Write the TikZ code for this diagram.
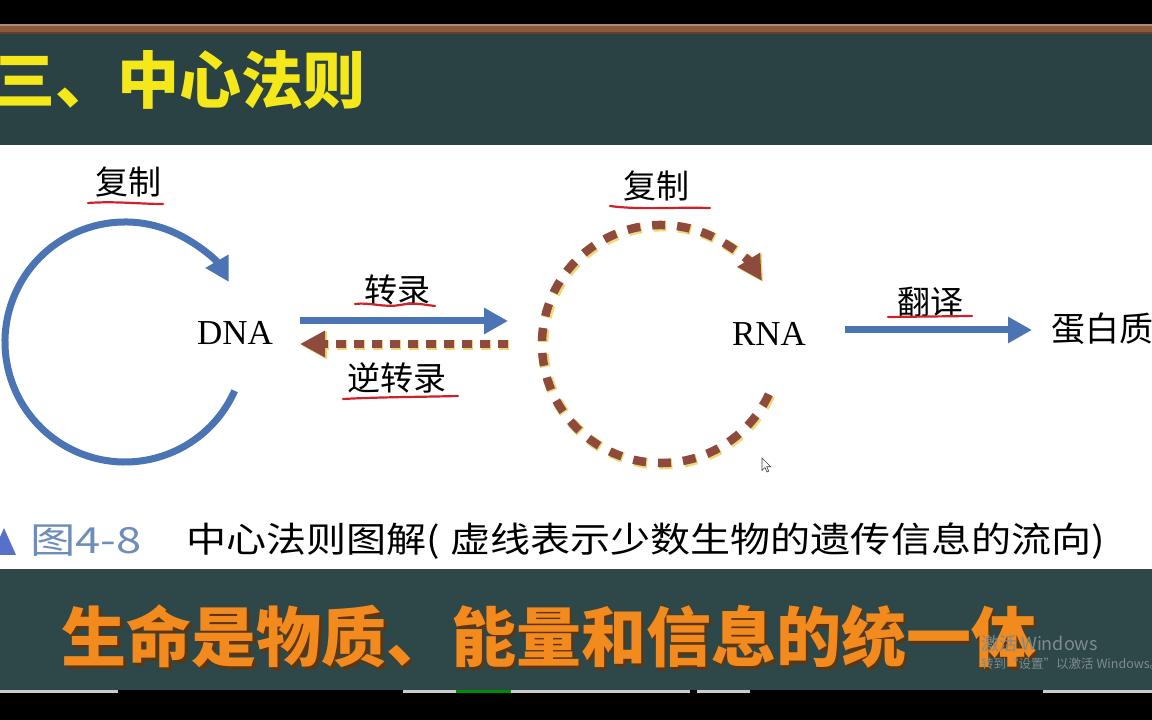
\documentclass[tikz,border=0pt]{standalone}
\usepackage{fontspec}
\setmainfont{Liberation Serif}
\newfontfamily\cjk{Noto Sans CJK SC}
\usetikzlibrary{arrows.meta}
\definecolor{board}{HTML}{2A4243}
\definecolor{boardb}{HTML}{2E4748}
\definecolor{wood}{HTML}{8A5A3A}
\definecolor{ttl}{HTML}{F4E71A}
\definecolor{flowblue}{HTML}{4A74B4}
\definecolor{rbrown}{HTML}{8E4A3C}
\definecolor{halo}{HTML}{F0D872}
\definecolor{uline}{HTML}{D0202A}
\definecolor{slogan}{HTML}{F28A1E}
\definecolor{sshadow}{HTML}{5E3612}
\definecolor{capblue}{HTML}{6E8EBA}
\definecolor{wm}{HTML}{7E8C8D}
\begin{document}
\begin{tikzpicture}[x=1pt,y=1pt,
  lbl/.style={font=\cjk\fontsize{33}{33}\selectfont, inner sep=0pt},
  molec/.style={font=\fontsize{35}{35}\selectfont, inner sep=0pt},
  bluearrow/.style={draw=flowblue, line width=7pt, -{Triangle[length=24pt,width=25pt]}},
  dashbrown/.style={draw=rbrown, line width=8.5pt, -{Triangle[length=25pt,width=25pt]}},
  dashhalo/.style={draw=halo, line width=10.5pt, -{Triangle[length=26pt,width=27pt]}},
  redline/.style={draw=uline, line width=2.2pt, line cap=round}]
\useasboundingbox (0,0) rectangle (1152,720);
% screen background
\fill[black] (0,0) rectangle (1152,720);
\fill[wood] (0,686) rectangle (1152,696);
\fill[wood!70!white] (0,694) rectangle (1152,696);
\fill[wood!70!black] (0,686) rectangle (1152,688);
\fill[board] (0,575) rectangle (1152,686);
\fill[white] (0,151) rectangle (1152,575);
\fill[boardb] (0,30) rectangle (1152,151);
\fill[black!20] (0,27) rectangle (118,30);
\fill[black!20] (403,27) rectangle (690,30);
\fill[green!55!black] (456,27) rectangle (511,30);
\fill[black!20] (697,27) rectangle (750,30);
\fill[black!20] (1043,27) rectangle (1152,30);

% title
\node[anchor=west, inner sep=0pt, text=ttl, font=\cjk\bfseries\fontsize{62}{62}\selectfont] (title) at (-7,640) {三、中心法则};

% DNA replication loop
\coordinate (dnaC) at (125,378);
\coordinate (dnaS) at ([shift={(-24:120)}]dnaC);
\draw[bluearrow] (dnaS) arc[start angle=-24, end angle=-330, radius=120];
\node[lbl] (fz1) at (128,538) {复制};
\draw[redline] (88,517) .. controls (115,519) and (140,516) .. (163,516);
\node[molec] (dna) at (235,387) {DNA};

% transcription
\coordinate (tA) at (300,399);
\coordinate (tB) at (508,399);
\draw[bluearrow] (tA) -- (tB);
\node[lbl] (zl) at (397,430) {转录};
\draw[redline] (355,416) .. controls (370,418) and (385,412) .. (400,415) .. controls (415,418) and (425,415) .. (435,414);

% reverse transcription
\coordinate (rA) at (508,376);
\coordinate (rB) at (300,376);
\draw[dashhalo, dash pattern=on 10pt off 8pt] ([xshift=1.2pt,yshift=-1.2pt]rA) -- ([xshift=1.2pt,yshift=-1.2pt]rB);
\draw[dashbrown, dash pattern=on 10pt off 8pt] (rA) -- (rB);
\node[lbl] (nzl) at (397,342) {逆转录};
\draw[redline] (343,321) .. controls (380,323) and (420,323) .. (458,324);

% RNA replication loop (dashed)
\coordinate (rnaC) at (661,376);
\coordinate (rnaS) at ([shift={(-25:119)}]rnaC);
\draw[dashhalo, dash pattern=on 13pt off 12pt] ([xshift=1.2pt,yshift=-1.2pt]rnaS) arc[start angle=-25, end angle=-328, radius=119];
\draw[dashbrown, dash pattern=on 13pt off 12pt] (rnaS) arc[start angle=-25, end angle=-328, radius=119];
\node[lbl] (fz2) at (656,534) {复制};
\draw[redline] (610,514) .. controls (640,510) and (670,513) .. (710,512);
\node[molec] (rna) at (769,386) {RNA};

% translation
\coordinate (lA) at (845,390);
\coordinate (lB) at (1032,390);
\draw[bluearrow] (lA) -- (lB);
\node[lbl] (fy) at (930,418) {翻译};
\draw[redline] (888,403) -- (972,404);
\node[lbl, anchor=west, font=\cjk\fontsize{34}{34}\selectfont] (prot) at (1051,391) {蛋白质};

% mouse cursor
\draw[fill=white, draw=black!75, line width=0.6pt] (762,262) -- (762,249.5) -- (765,252.5) -- (767,248) -- (768.7,248.8) -- (766.8,253.2) -- (770.8,253.2) -- cycle;

% caption
\fill[capblue!80!blue] (-8,165) -- (16,165) -- (4,192) -- cycle;
\node[anchor=west, inner sep=0pt, text=capblue, font=\cjk\fontsize{36}{36}\selectfont] (fig) at (30,179) {\scalebox{1.26}[1]{图4-8}};
\node[anchor=west, inner sep=0pt, font=\cjk\fontsize{35}{35}\selectfont] (caption) at (186,179) {\scalebox{1.145}[1]{中心法则图解(\hspace{0.25em}虚线表示少数生物的遗传信息的流向)}};

% slogan
\node[inner sep=0pt, text=sshadow, font=\cjk\bfseries\fontsize{65}{65}\selectfont] (sloganshadow) at (551.5,80.5) {生命是物质、能量和信息的统一体};
\node[inner sep=0pt, text=slogan, font=\cjk\bfseries\fontsize{65}{65}\selectfont] (slogan) at (549,83) {生命是物质、能量和信息的统一体};

% watermark
\node[anchor=west, inner sep=0pt, text=wm, font=\cjk\fontsize{18}{18}\selectfont] (wm1) at (981,76) {激活 Windows};
\node[anchor=west, inner sep=0pt, text=wm, font=\cjk\fontsize{12.5}{12.5}\selectfont] (wm2) at (981,56) {转到“设置”以激活 Windows。};
\end{tikzpicture}
\end{document}
